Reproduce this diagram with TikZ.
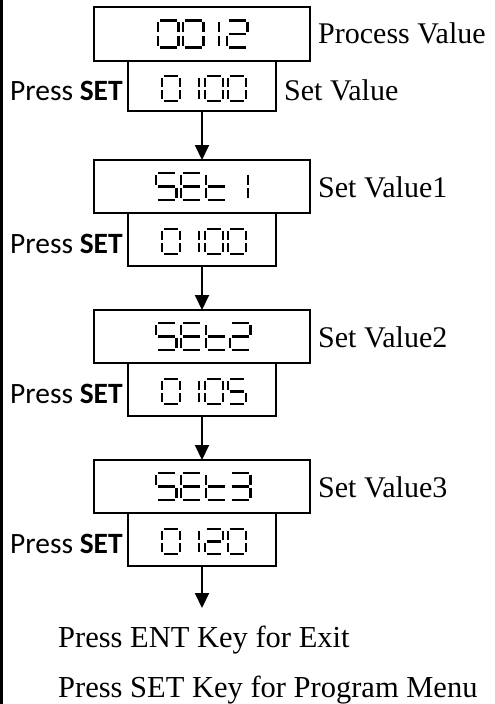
\documentclass[tikz,border=0pt]{standalone}
\usepackage{fontspec}
\setmainfont{Liberation Serif}
\newfontfamily\labelsans{Carlito}
\usetikzlibrary{arrows.meta}

% seven-segment glyph parts, in a cell of width \W and height \H (y grows downward)
\def\G{1.6}
\def\sga{(\G,0) -- (\W-\G,0)}
\def\sgb{(\W,\G) -- (\W,\H/2-\G)}
\def\sgc{(\W,\H/2+\G) -- (\W,\H-\G)}
\def\sgd{(\G,\H) -- (\W-\G,\H)}
\def\sge{(0,\H/2+\G) -- (0,\H-\G)}
\def\sgf{(0,\G) -- (0,\H/2-\G)}
\def\sgg{(\G,\H/2) -- (\W-\G,\H/2)}

% \sevseg{left}{top}{width}{height}{segment list macro}
\newcommand\sevseg[5]{%
  \begin{scope}[shift={(#1,#2)}]
    \def\W{#3}\def\H{#4}%
    \foreach \s in #5{%
      \expandafter\let\expandafter\segpath\csname sg\s\endcsname
      \draw[segline] \segpath;}
  \end{scope}}

% characters
\def\chZero{a,b,c,d,e,f}
\def\chOne{b,c}
\def\chTwo{a,b,g,e,d}
\def\chThree{a,b,g,c,d}
\def\chFive{a,f,g,c,d}
\def\chE{a,f,g,e,d}
\def\chT{f,e,g,d}

% big digits (upper display) and small digits (lower display)
\newcommand\bigch[3]{\sevseg{#1}{#2}{20.5}{27}{#3}}
\newcommand\bigone[2]{\sevseg{#1}{#2}{0}{27}{\chOne}}
\newcommand\smallch[3]{\sevseg{#1}{#2}{18}{25}{#3}}
\newcommand\smallone[2]{\sevseg{#1}{#2}{0}{25}{\chOne}}

% lower display "0 1xy"
\newcommand\lowvalue[3]{%
  \smallch{162}{#1}{\chZero}
  \smallone{199}{#1}
  \smallch{205}{#1}{#2}
  \smallch{228}{#1}{#3}}

\tikzset{
  dispbox/.style={draw, line width=2pt, inner sep=0pt, outer sep=0pt, anchor=north west},
  upbox/.style={dispbox, minimum width=216pt},
  lowbox/.style={dispbox, minimum width=148pt},
  flow/.style={line width=2pt, -{Triangle[length=15pt,width=14pt]}},
  segline/.style={line width=2.1pt, line cap=butt},
  sidelabel/.style={font=\fontsize{30}{36}\selectfont, anchor=base west, inner sep=0pt},
  notelabel/.style={font=\fontsize{30.5}{36}\selectfont, anchor=base west, inner sep=0pt},
  presslabel/.style={font=\labelsans\fontsize{29.5}{34}\selectfont, anchor=base west, inner sep=0pt},
}

\begin{document}
\begin{tikzpicture}[x=1pt,y=-1pt]
\useasboundingbox (0,0) rectangle (495,704);
\fill (0,0) rectangle (2.5,704);

% displays
\node[upbox, minimum height=54pt]  (u1) at (94,7) {};
\node[lowbox, minimum height=50pt] (l1) at (128,61) {};
\node[upbox, minimum height=53pt]  (u2) at (94,160) {};
\node[lowbox, minimum height=53pt] (l2) at (128,213) {};
\node[upbox, minimum height=53pt]  (u3) at (94,310) {};
\node[lowbox, minimum height=53pt] (l3) at (128,363) {};
\node[upbox, minimum height=53pt]  (u4) at (94,460) {};
\node[lowbox, minimum height=53pt] (l4) at (128,513) {};
\coordinate (exit) at (202,608);

% display contents
\bigch{158}{20.5}{\chZero}
\bigch{183}{20.5}{\chZero}
\bigone{219}{20.5}
\bigch{227}{20.5}{\chTwo}
\lowvalue{76}{\chZero}{\chZero}

\bigch{156}{173}{\chFive}
\bigch{181}{173}{\chE}
\bigch{206}{173}{\chT}
\bigone{248}{173}
\lowvalue{229}{\chZero}{\chZero}

\bigch{156}{323}{\chFive}
\bigch{181}{323}{\chE}
\bigch{206}{323}{\chT}
\bigch{230}{323}{\chTwo}
\lowvalue{379}{\chZero}{\chFive}

\bigch{156}{473}{\chFive}
\bigch{181}{473}{\chE}
\bigch{206}{473}{\chT}
\bigch{230}{473}{\chThree}
\lowvalue{529}{\chTwo}{\chZero}

% flow
\draw[flow] (l1.south) -- (u2.north);
\draw[flow] (l2.south) -- (u3.north);
\draw[flow] (l3.south) -- (u4.north);
\draw[flow] (l4.south) -- (exit);

% labels
\node[sidelabel] (pv)  at (318,43)  {Process Value};
\node[sidelabel] (sv)  at (284,100) {Set Value};
\node[sidelabel] (sv1) at (318,197) {Set Value1};
\node[sidelabel] (sv2) at (318,347) {Set Value2};
\node[sidelabel] (sv3) at (318,497) {Set Value3};
\node[presslabel] (ps1) at (10,100)   {Press \textbf{SET}};
\node[presslabel] (ps2) at (10,253.5) {Press \textbf{SET}};
\node[presslabel] (ps3) at (10,403.5) {Press \textbf{SET}};
\node[presslabel] (ps4) at (10,553.5) {Press \textbf{SET}};
\node[notelabel] (ent) at (58,647) {Press ENT Key for Exit};
\node[notelabel] (prg) at (58,697) {Press SET Key for Program Menu};
\end{tikzpicture}
\end{document}
